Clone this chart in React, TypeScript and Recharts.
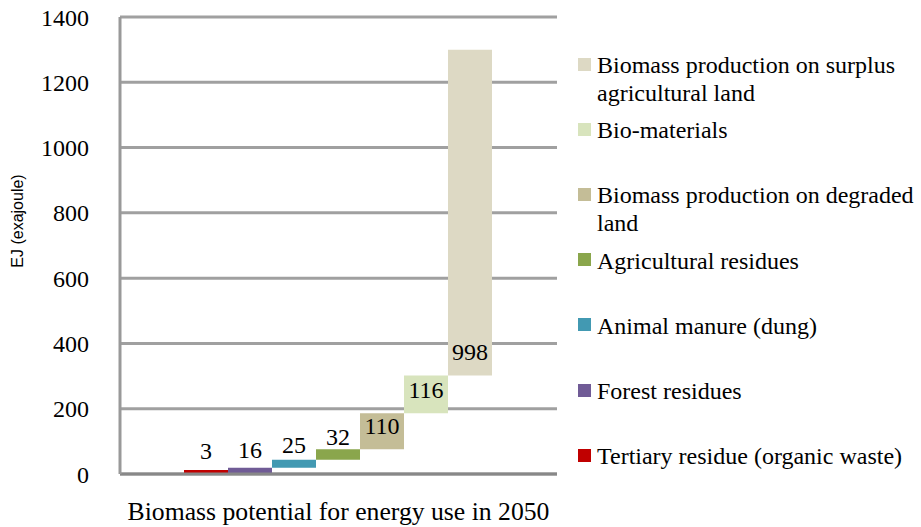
import { Bar, BarChart, CartesianGrid, Legend, XAxis, YAxis } from 'recharts'

const categories = ['Biomass potential for energy use in 2050']

const seriesKeys = ['tertiary', 'forest', 'manure', 'agri', 'degraded', 'biomat', 'surplus']
const seriesNames = [
  'Tertiary residue (organic waste)',
  'Forest residues',
  'Animal manure (dung)',
  'Agricultural residues',
  'Biomass production on degraded land',
  'Bio-materials',
  'Biomass production on surplus agricultural land',
]
const seriesValues = [3, 16, 25, 32, 110, 116, 998]
const seriesColors = ['#c00000', '#705b96', '#4299b2', '#8aa64c', '#c4bd97', '#d8e4bd', '#ddd9c4']

const yTicks = [0, 200, 400, 600, 800, 1000, 1200, 1400]

// legend text lines (wrapped like the original)
const legendLines: Record<string, string[]> = {
  surplus: ['Biomass production on surplus', 'agricultural land'],
  biomat: ['Bio-materials'],
  degraded: ['Biomass production on degraded', 'land'],
  agri: ['Agricultural residues'],
  manure: ['Animal manure (dung)'],
  forest: ['Forest residues'],
  tertiary: ['Tertiary residue (organic waste)'],
}

const serif = '"Liberation Serif", "Times New Roman", serif'
const serifText = { fontFamily: serif, fontSize: 24 }

// floating bars: each one starts where the previous one ended
const row: Record<string, any> = { name: categories[0] }
let running = 0
seriesKeys.forEach((k, i) => {
  row[k] = [running, running + seriesValues[i]]
  running += seriesValues[i]
})
const data = [row]

const makeLabel = (amount: number) => (props: any) => {
  const { x, y, width, height } = props
  const bottom = Number(y) + Number(height)
  return (
    <text
      x={Number(x) + Number(width) / 2}
      y={bottom - 15}
      textAnchor="middle"
      fill="#000"
      style={serifText}
    >
      {amount}
    </text>
  )
}

const renderLegend = (props: any) => {
  const items = [...(props.payload || [])].sort(
    (a: any, b: any) => seriesKeys.indexOf(b.dataKey) - seriesKeys.indexOf(a.dataKey)
  )
  return (
    <div style={{ position: 'relative', width: 0, height: 0 }}>
      {items.map((item: any, i: number) => {
        const key = item.dataKey as string
        const center = 64 + i * 65.2
        return (
          <div key={key}>
            <div
              style={{
                position: 'absolute',
                left: 578,
                top: center - 6.5,
                width: 13,
                height: 13,
                background: item.color,
              }}
            />
            <div
              style={{
                position: 'absolute',
                left: 597,
                top: center - 13,
                fontFamily: serif,
                fontSize: 24,
                lineHeight: '28px',
                color: '#000',
                whiteSpace: 'nowrap',
              }}
            >
              {(legendLines[key] || [item.value]).map((l) => (
                <div key={l}>{l}</div>
              ))}
            </div>
          </div>
        )
      })}
    </div>
  )
}

export default function App() {
  return (
    <div style={{ position: 'absolute', left: 0, top: 0, width: 921, height: 527, background: '#fff' }}>
      <BarChart
        width={921}
        height={527}
        data={data}
        margin={{ top: 17, right: 364, left: 40, bottom: 0 }}
        barGap={0}
        barCategoryGap={64}
      >
        <CartesianGrid vertical={false} stroke="#a0a0a0" strokeWidth={3} />
        <XAxis
          dataKey="name"
          height={53}
          tickLine={false}
          tickMargin={22}
          axisLine={{ stroke: '#888', strokeWidth: 3 }}
          tick={{ fill: '#000', style: { fontFamily: serif, fontSize: 25.7 } }}
        />
        <YAxis
          width={80}
          domain={[0, 1400]}
          ticks={yTicks}
          tickLine={false}
          tickMargin={25}
          axisLine={{ stroke: '#999', strokeWidth: 3 }}
          tick={{ fill: '#000', style: serifText }}
          label={{
            content: () => (
              <text
                x={17}
                y={221}
                transform="rotate(-90 17 221)"
                textAnchor="middle"
                dominantBaseline="central"
                fill="#000"
                style={{ fontFamily: '"Liberation Sans", Arial, sans-serif', fontSize: 16 }}
              >
                EJ (exajoule)
              </text>
            ),
          }}
        />
        <Legend
          content={renderLegend}
          wrapperStyle={{ left: 0, top: 0 }}
        />
        {seriesKeys.map((k, i) => (
          <Bar
            key={k}
            dataKey={k}
            name={seriesNames[i]}
            fill={seriesColors[i]}
            minPointSize={4}
            isAnimationActive={false}
            label={makeLabel(seriesValues[i])}
          />
        ))}
      </BarChart>
    </div>
  )
}
